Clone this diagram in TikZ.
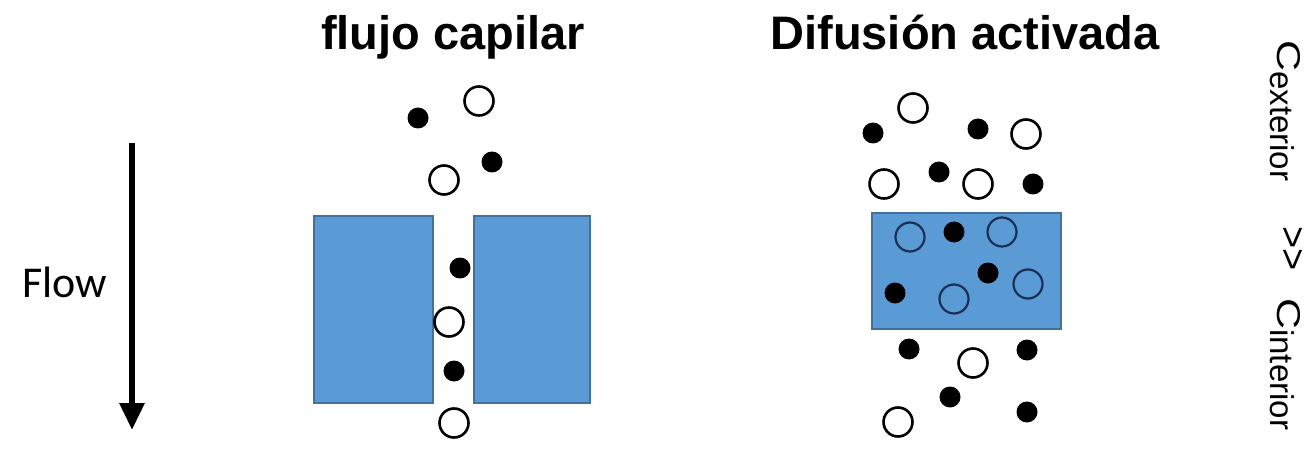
\documentclass[tikz,border=0pt]{standalone}
\usepackage{fontspec}
\setmainfont{Liberation Sans}
\newfontfamily\calibrifont{Carlito}
\usetikzlibrary{arrows.meta}
\definecolor{membrane}{HTML}{5B9BD5}
\definecolor{membraneedge}{HTML}{41719C}
\definecolor{navyring}{HTML}{1A2F55}
\tikzset{
  wall/.style={draw=membraneedge, line width=1.5, fill=membrane},
  solid particle/.style={circle, fill=black, inner sep=0, minimum size=21},
  open particle/.style={circle, draw=black, line width=2.6, fill=white, inner sep=0, minimum size=29},
  sunk particle/.style={circle, draw=navyring, line width=2.2, inner sep=0, minimum size=29},
  title/.style={inner sep=0, anchor=base, font=\fontsize{47}{56}\selectfont\bfseries},
  vlabel/.style={inner sep=0, anchor=base west, rotate=-90}
}
\begin{document}
\begin{tikzpicture}[x=1pt, y=-1pt]
\useasboundingbox (0,0) rectangle (1309,449);

% titles
\node[title] (t1) at (453,50) {flujo capilar};
\node[title] (t2) at (965,50) {Difusión activada};

% flow direction
\node[inner sep=0, anchor=base west, font=\calibrifont\fontsize{44}{52}\selectfont] (flow) at (22,297) {Flow};
\coordinate (flowtop) at (132,143);
\coordinate (flowend) at (132,430);
\draw[line width=6, -{Triangle[length=27, width=24]}] (flowtop) -- (flowend);

% capillary flow: two walls with a gap
\draw[wall] (314,216) rectangle (433,403);
\draw[wall] (474,216) rectangle (590,403);

\node[solid particle] (c1) at (418,118) {};
\node[open particle]  (c2) at (479,101) {};
\node[solid particle] (c3) at (492,162) {};
\node[open particle]  (c4) at (444,180) {};
\node[solid particle] (c5) at (460,268) {};
\node[open particle]  (c6) at (449,322) {};
\node[solid particle] (c7) at (454,371) {};
\node[open particle]  (c8) at (454,423) {};

% activated diffusion: dense membrane
\draw[wall] (872,213) rectangle (1061,329);

\node[open particle]  (d1) at (913,108) {};
\node[solid particle] (d2) at (873,133) {};
\node[solid particle] (d3) at (978,129) {};
\node[open particle]  (d4) at (1026,134) {};
\node[open particle]  (d5) at (884,184) {};
\node[solid particle] (d6) at (939,172) {};
\node[open particle]  (d7) at (978,184) {};
\node[solid particle] (d8) at (1033,184) {};

\node[sunk particle]  (m1) at (910,237) {};
\node[solid particle] (m2) at (954,232) {};
\node[sunk particle]  (m3) at (1002,232) {};
\node[solid particle] (m4) at (988,273) {};
\node[sunk particle]  (m5) at (1028,284) {};
\node[solid particle] (m6) at (895,293) {};
\node[sunk particle]  (m7) at (954,299) {};

\node[solid particle] (e1) at (909,349) {};
\node[open particle]  (e2) at (973,363) {};
\node[solid particle] (e3) at (1027,350) {};
\node[solid particle] (e4) at (950,397) {};
\node[open particle]  (e5) at (898,422) {};
\node[solid particle] (e6) at (1027,412) {};

% concentration relation, set vertically
\node[vlabel] (cext) at (1277,40)
  {\fontsize{33}{40}\selectfont\scalebox{1.3}[1]{C}\raisebox{-7pt}{exterior}};
\node[vlabel] (rel) at (1280,226)
  {\fontsize{38}{46}\selectfont >{}>};
\node[vlabel] (cint) at (1277,298)
  {\fontsize{33}{40}\selectfont\scalebox{1.3}[1]{C}\raisebox{-7pt}{interior}};
\end{tikzpicture}
\end{document}
